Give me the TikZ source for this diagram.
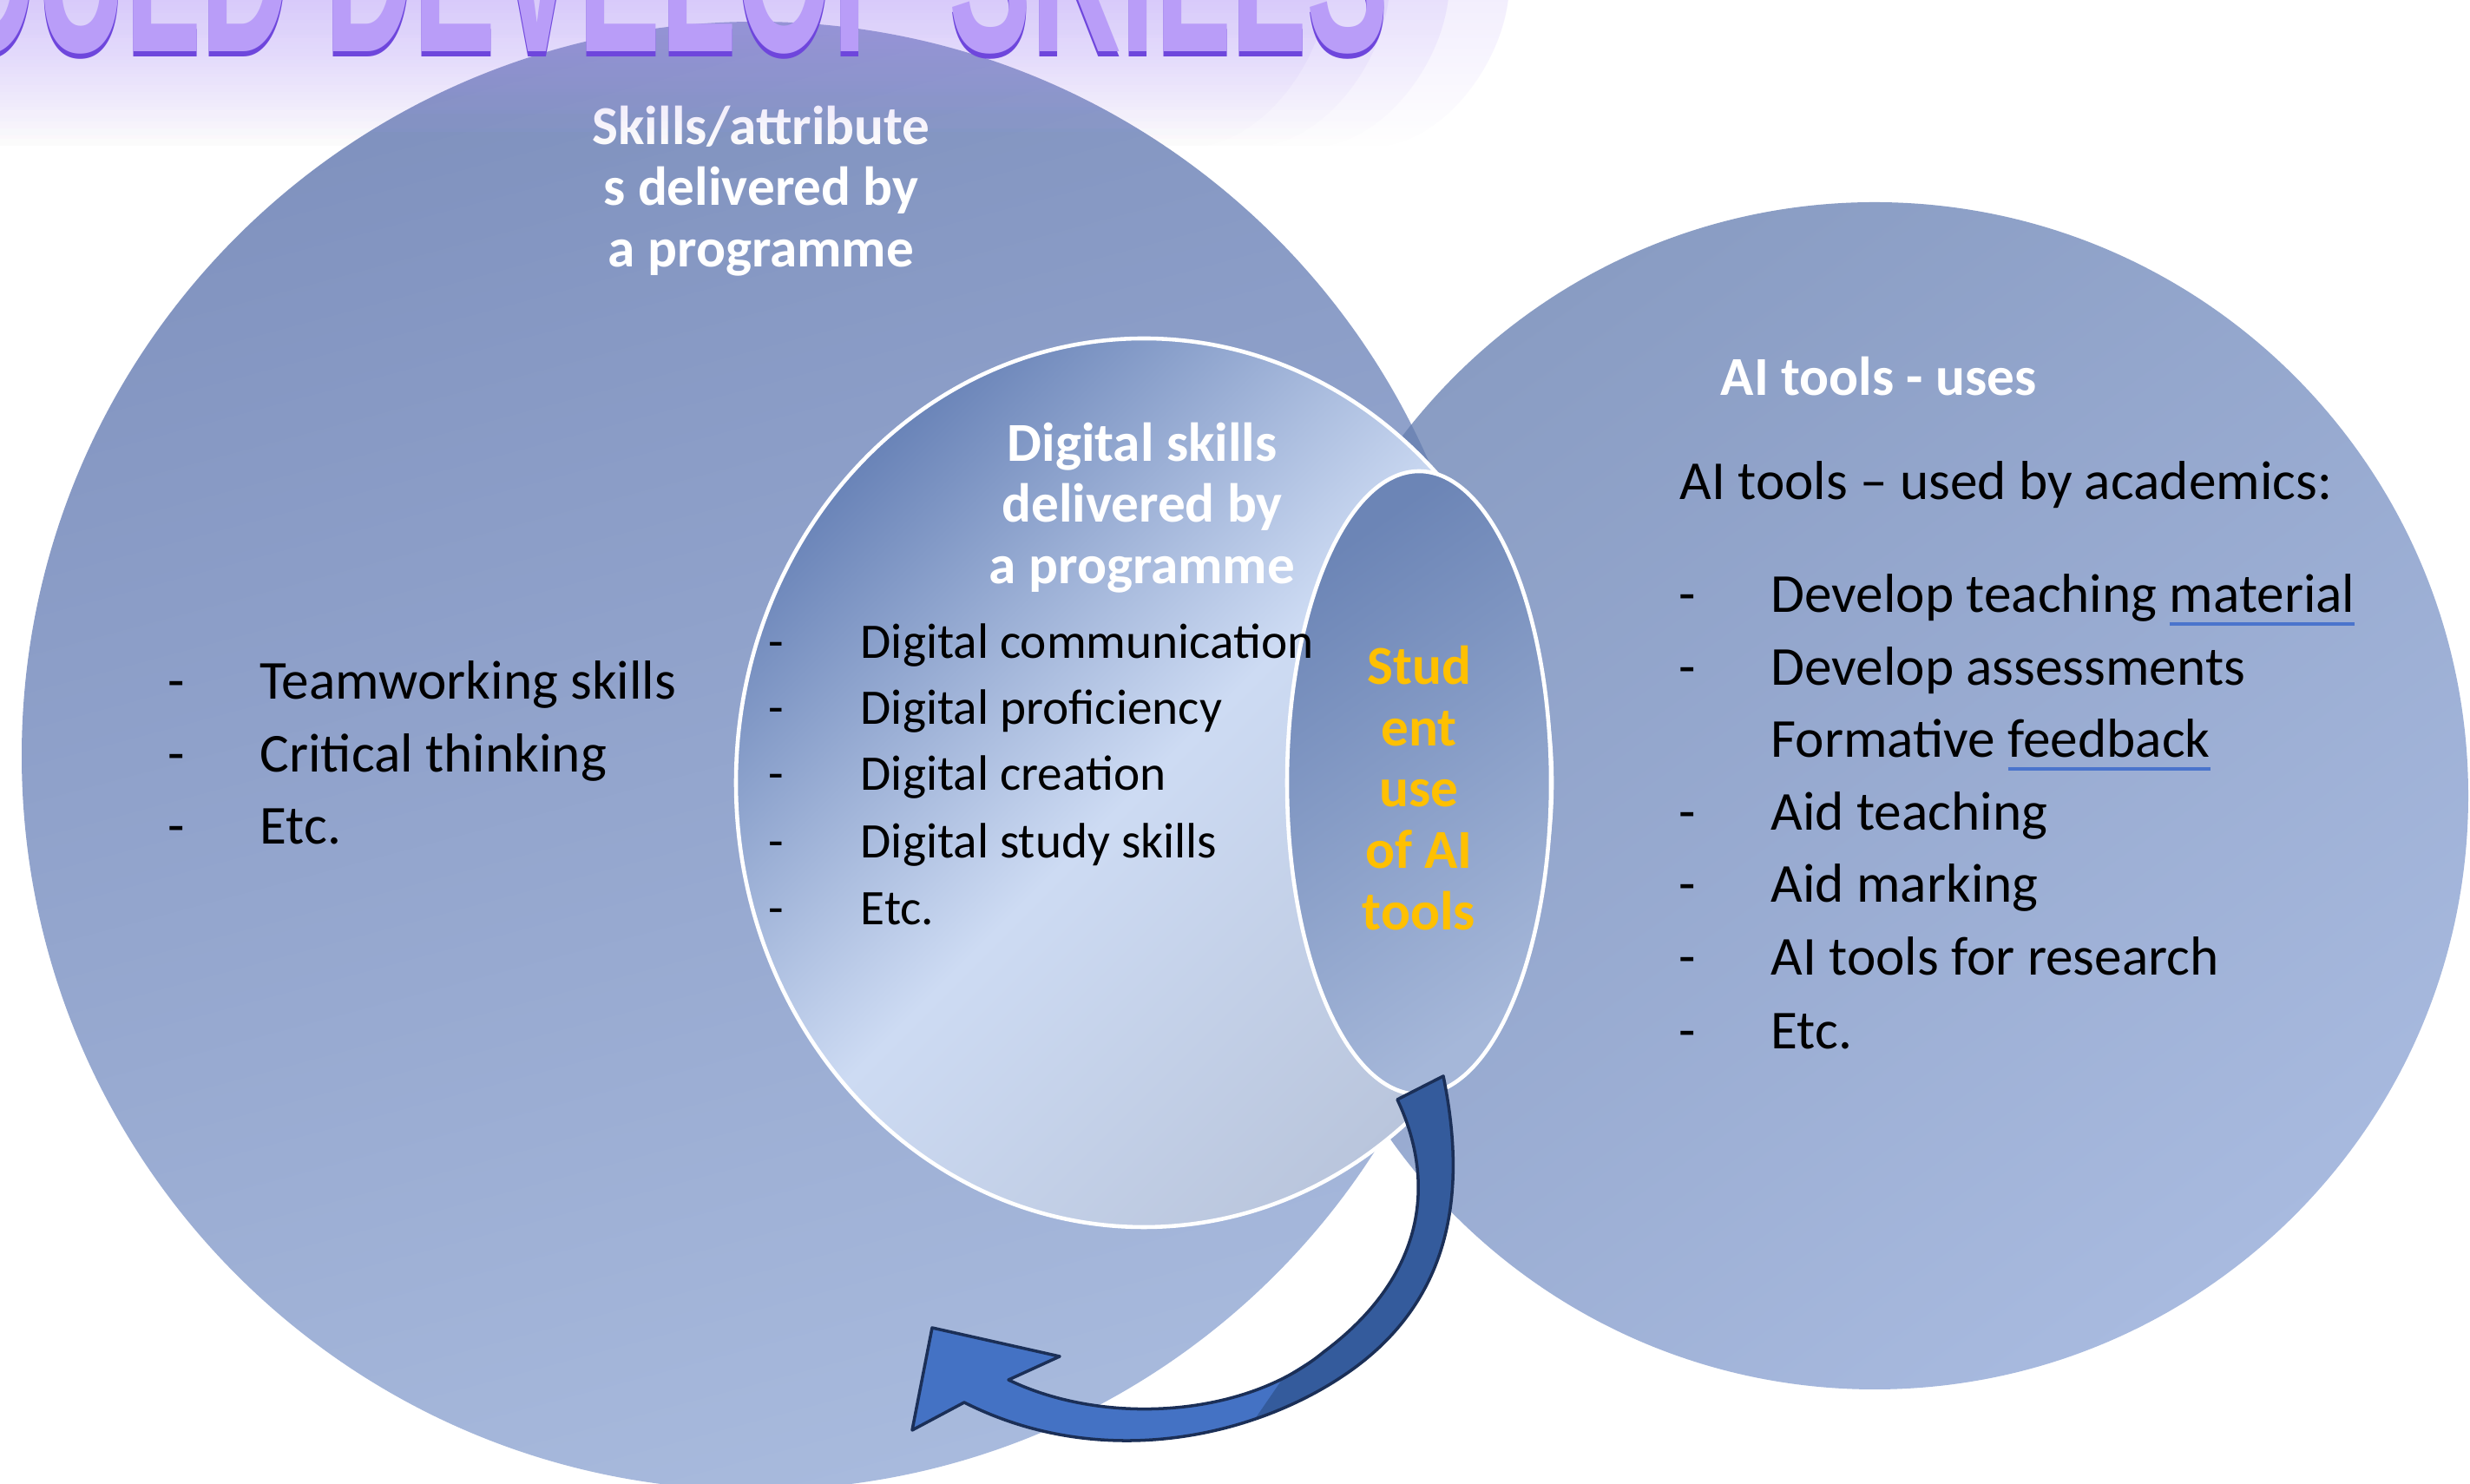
\documentclass[tikz,border=0pt]{standalone}
\usepackage{fontspec}
\setmainfont{Carlito}
\newfontfamily\bannerfont{Liberation Sans}
\usetikzlibrary{fadings}

\definecolor{leftTop}{HTML}{7F91BE}
\definecolor{leftBottom}{HTML}{A8BADD}
\definecolor{rightTop}{HTML}{899CC3}
\definecolor{rightBottom}{HTML}{A8BADF}
\definecolor{overlapBlue}{HTML}{6F86B5}
\definecolor{innerDark}{HTML}{6A84B8}
\definecolor{innerLight}{HTML}{CDDBF3}
\definecolor{innerGrey}{HTML}{B9C5DC}
\definecolor{studDark}{HTML}{6C85B6}
\definecolor{studLight}{HTML}{A5B7D9}
\definecolor{arrowLight}{HTML}{4472C4}
\definecolor{arrowDark}{HTML}{345B9C}
\definecolor{arrowLine}{HTML}{1B2F57}
\definecolor{gold}{HTML}{FFC000}
\definecolor{ulBlue}{HTML}{4A74CC}
\definecolor{glowLav}{HTML}{B49AF7}
\definecolor{bannerFill}{HTML}{B99DF8}
\definecolor{bannerShade}{HTML}{6E46DC}

\tikzfading[name=glowfade, top color=transparent!0, bottom color=transparent!100]

\newsavebox\ulbox
\newcommand\spellul[1]{\sbox\ulbox{#1}\rlap{\color{ulBlue}\rule[-4.3pt]{\wd\ulbox}{1.3pt}}\usebox\ulbox}
\newcommand\bullit{\makebox[1.06cm][l]{-}}

\def\skillsdisc{(8.71,8.39) circle (8.46)}
\def\toolsdisc{(21.60,7.93) circle (6.84)}
\def\arrowshape{(16.63,4.70) .. controls (16.88,3.48) and (16.79,2.21) .. (15.61,1.34)
    .. controls (14.52,0.54) and (12.71,0.13) .. (11.11,0.94)
    -- (10.51,0.62) -- (10.74,1.80) -- (12.21,1.47) -- (11.62,1.20)
    .. controls (12.71,0.67) and (14.34,0.76) .. (15.25,1.52)
    .. controls (16.43,2.40) and (16.55,3.48) .. (16.10,4.43) -- cycle}

\tikzset{
    heading/.style={align=center, text=white, inner sep=0pt, font=\bfseries\fontsize{18}{20.1}\selectfont},
    item/.style={anchor=base west, inner sep=0pt, font=\fontsize{18}{21}\selectfont},
    smallitem/.style={item, font=\fontsize{16.3}{19}\selectfont},
    ring/.style={draw=white, line width=1.3pt},
    glowlayer/.style={glowLav, fill opacity=0.16, path fading=glowfade},
    banner/.style={anchor=base west, inner sep=0pt, font=\bannerfont\bfseries\fontsize{81}{81}\selectfont},
}

\begin{document}
\begin{tikzpicture}
    \useasboundingbox (0,0) rectangle (28.46,17.10);
    \fill[white] (0,0) rectangle (28.46,17.10);

    % Circles
    \shade[top color=leftTop, bottom color=leftBottom, shading angle=15] \skillsdisc;
    \shade[top color=rightTop, bottom color=rightBottom, shading angle=35] \toolsdisc;
    \begin{scope}
        \clip \skillsdisc;
        \fill[overlapBlue] \toolsdisc;
    \end{scope}

    % Digital skills ellipse
    \shadedraw[ring, top color=innerDark, bottom color=innerGrey, middle color=innerLight, shading angle=45] (13.18,8.08) ellipse (4.70 and 5.12);

    % Student use ellipse
    \shadedraw[ring, top color=studDark, bottom color=studLight, shading angle=35] (16.35,8.08) ellipse (1.52 and 3.59);

    % Headings
    \node[heading] (skillshead) at (8.77,14.90) {Skills/attribute\\s delivered by\\a programme};
    \node[heading] (digitalhead) at (13.16,11.25) {Digital skills\\delivered by\\a programme};
    \node[heading, text=gold] (studentuse) at (16.35,8.02) {Stud\\ent\\use\\of AI\\tools};
    \node[heading, anchor=base west] (toolshead) at (19.82,12.54) {AI tools - uses};

    % Skills list
    \node[item] (team) at (1.93,9.04) {\bullit Teamworking skills};
    \node[item] (critical) at (1.93,8.20) {\bullit Critical thinking};
    \node[item] (skillsetc) at (1.93,7.37) {\bullit Etc.};

    % Digital list
    \node[smallitem] (dcomm) at (8.85,9.51) {\bullit Digital communication};
    \node[smallitem] (dprof) at (8.85,8.75) {\bullit Digital proficiency};
    \node[smallitem] (dcreate) at (8.85,7.99) {\bullit Digital creation};
    \node[smallitem] (dstudy) at (8.85,7.21) {\bullit Digital study skills};
    \node[smallitem] (detc) at (8.85,6.44) {\bullit Etc.};

    % Tools list
    \node[item] (toolsintro) at (19.35,11.34) {AI tools – used by academics:};
    \node[item] (material) at (19.34,10.04) {\bullit Develop teaching \spellul{material}};
    \node[item] (assess) at (19.34,9.20) {\bullit Develop assessments};
    \node[item] (feedback) at (19.34,8.37) {\makebox[1.06cm]{}Formative \spellul{feedback}};
    \node[item] (aidteach) at (19.34,7.53) {\bullit Aid teaching};
    \node[item] (aidmark) at (19.34,6.70) {\bullit Aid marking};
    \node[item] (research) at (19.34,5.86) {\bullit AI tools for research};
    \node[item] (toolsetc) at (19.34,5.01) {\bullit Etc.};

    % Curved arrow
    \fill[arrowLight] \arrowshape;
    \fill[arrowDark] (16.63,4.70) .. controls (16.88,3.48) and (16.79,2.21) .. (15.61,1.34)
        .. controls (15.28,1.10) and (14.89,0.90) .. (14.46,0.75) -- (14.79,1.23) -- (15.25,1.52)
        .. controls (16.43,2.40) and (16.55,3.48) .. (16.10,4.43) -- cycle;
    \draw[arrowLine, line width=1pt, line join=round] \arrowshape;

    % Banner glow and text
    \fill[glowlayer] (-0.1,17.1) -- (15.3,17.1) .. controls (15.2,16.3) and (14.5,15.4) .. (13.7,15.4) -- (-0.1,15.4) -- cycle;
    \fill[glowlayer] (-0.1,17.1) -- (16.0,17.1) .. controls (15.9,16.3) and (15.2,15.4) .. (14.4,15.4) -- (-0.1,15.4) -- cycle;
    \fill[glowlayer] (-0.1,17.1) -- (16.7,17.1) .. controls (16.6,16.3) and (15.9,15.4) .. (15.1,15.4) -- (-0.1,15.4) -- cycle;
    \fill[glowlayer] (-0.1,17.1) -- (17.4,17.1) .. controls (17.3,16.3) and (16.6,15.4) .. (15.8,15.4) -- (-0.1,15.4) -- cycle;
    \node[banner, text=bannerShade] (bannershadow) at (-2.67,16.44) {\scalebox{0.5}[1]{SHOULD DEVELOP SKILLS}};
    \node[banner, text=bannerFill] (banner) at (-2.67,16.50) {\scalebox{0.5}[1]{SHOULD DEVELOP SKILLS}};
\end{tikzpicture}
\end{document}
